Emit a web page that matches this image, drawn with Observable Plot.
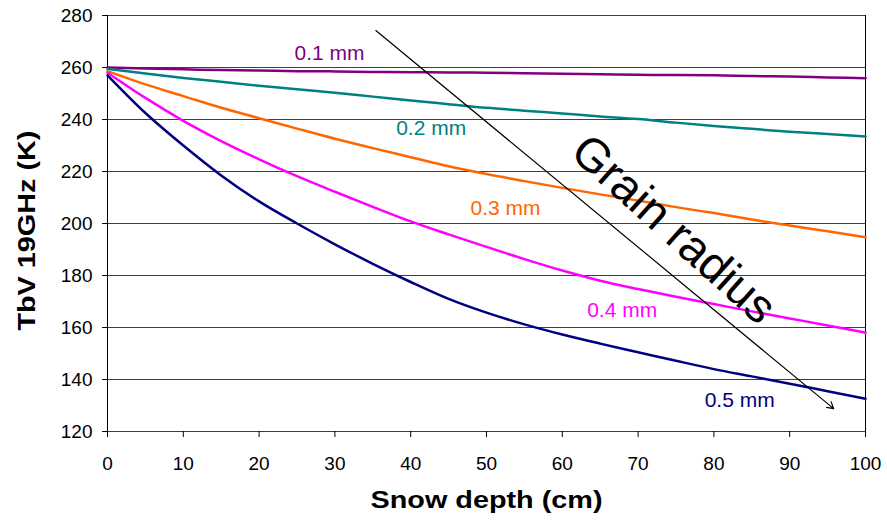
<!DOCTYPE html>
<html><head><meta charset="utf-8">
<script src="https://cdn.jsdelivr.net/npm/d3@7"></script>
<script src="https://cdn.jsdelivr.net/npm/@observablehq/plot@0.6"></script>
<style>body{margin:0;background:#fff;font-family:"Liberation Sans",Arial,sans-serif}</style>
</head><body><div id="chart"></div>
<script>
// Snow depth (cm)
const depth = [0,5,10,15,20,25,30,35,40,45,50,55,60,65,70,75,80,85,90,95,100];
const seriesNames = ["0.1 mm","0.2 mm","0.3 mm","0.4 mm","0.5 mm"];
// TbV 19GHz (K) per grain radius
const tb01 = [260,259.6,259.3,259,258.8,258.6,258.5,258.3,258.2,258.1,258,257.8,257.6,257.4,257.2,257.1,257,256.7,256.5,256.2,255.9];
const tb02 = [259.5,257.7,256,254.5,253,251.6,250.3,248.8,247.3,245.9,244.5,243.4,242.3,241.2,240.2,238.8,237.5,236.4,235.3,234.4,233.5];
const tb03 = [258.6,253.5,249,244.5,240.5,236.5,232.6,229,225.5,222,219,216.3,213.7,211.2,208.8,206.3,204,201.5,199.2,197,194.7];
const tb04 = [258,248.3,239.5,231.7,224.7,218.2,212.2,206.4,200.8,195.8,191,186.3,181.9,178,174.8,171.8,169,166.2,163.5,160.8,158];
const tb05 = [257,242.5,230,218.5,208.5,200,192,184.5,177.5,171,165.7,161.2,157.3,153.8,150.5,147.2,144,141.2,138.4,135.5,132.6];
const colors = ["#800080","#008080","#FF6600","#FF00FF","#000080"];
const xTicks = [0,10,20,30,40,50,60,70,80,90,100];
const yTicks = [120,140,160,180,200,220,240,260,280];
// label anchors (data coordinates)
const labelDepth = [29.3,42.7,52.5,67.9,83.4];
const labelTb = [265.4,236.5,205.8,166.5,131.9];
const arrowStart = [35.4,274.2];
const arrowEnd = [95.8,128.8];
const annotation = "Grain radius";
const annotationPos = [74.7,197.7];

const allSeries = [tb01,tb02,tb03,tb04,tb05];
const data = allSeries.flatMap((vals,i)=>vals.map((v,j)=>({series:seriesNames[i], depth:depth[j], tb:v})));
const labels = seriesNames.map((s,i)=>({series:s, x:labelDepth[i], y:labelTb[i], color:colors[i]}));

const plot = Plot.plot({
  width: 887, height: 527,
  marginLeft: 107, marginRight: 22, marginTop: 15, marginBottom: 96,
  style: {fontFamily: "'Liberation Sans', Arial, sans-serif", background: "#fff", color: "#000"},
  x: {domain: [0,100], label: null},
  y: {domain: [120,280], label: null},
  color: {domain: seriesNames, range: colors},
  marks: [
    Plot.ruleY(yTicks, {stroke: "#404040", strokeWidth: 1}),
    Plot.ruleX([0,100], {stroke: "#000", strokeWidth: 1}),
    Plot.axisY({ticks: yTicks, tickSize: 5, tickPadding: 10, fontSize: 19, label: null, stroke: "#000"}),
    Plot.axisX({ticks: xTicks, tickSize: 6, tickPadding: 19, fontSize: 19, label: null, stroke: "#000"}),
    Plot.line(data, {x: "depth", y: "tb", z: "series", stroke: "series", strokeWidth: 2.5, curve: "monotone-x"}),
    Plot.text(labels, {x: "x", y: "y", text: "series", fill: "color", fontSize: 21}),
    Plot.arrow([{x1: arrowStart[0], y1: arrowStart[1], x2: arrowEnd[0], y2: arrowEnd[1]}],
      {x1: "x1", y1: "y1", x2: "x2", y2: "y2", stroke: "#000", strokeWidth: 1.2, headLength: 9}),
    Plot.text([annotation], {x: () => annotationPos[0], y: () => annotationPos[1], text: d => d, rotate: 42, fontSize: 47, fill: "#000"}),
    Plot.text(["Snow depth (cm)"], {frameAnchor: "bottom", dy: 76, text: d => d, fontSize: 24, fontWeight: "bold", fill: "#000"}),
    Plot.text(["TbV 19GHz (K)"], {x: () => 0, y: () => 158.8, dx: -80, textAnchor: "start", rotate: -90, text: d => d, fontSize: 24, fontWeight: "bold", fill: "#000"})
  ]
});
document.getElementById("chart").appendChild(plot);
// stretch axis titles to match reference width
plot.querySelectorAll("text").forEach(t => {
  if (t.textContent === "Snow depth (cm)") { t.setAttribute("textLength", 232); t.setAttribute("lengthAdjust", "spacingAndGlyphs"); }
  if (t.textContent === "TbV 19GHz (K)") { t.setAttribute("textLength", 200); t.setAttribute("lengthAdjust", "spacingAndGlyphs"); }
});
</script>
</body></html>
